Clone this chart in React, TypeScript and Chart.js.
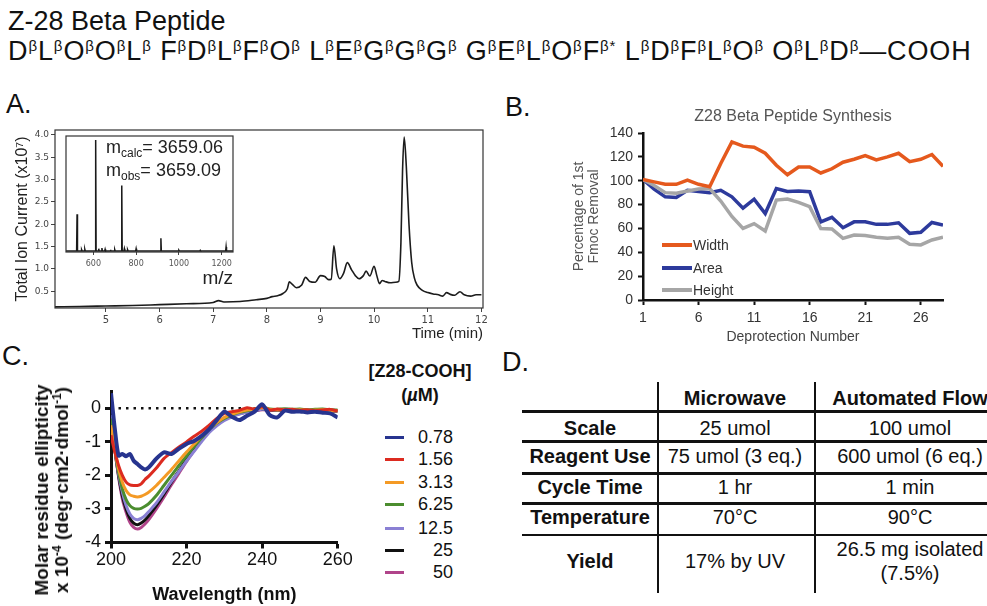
import React, { useEffect, useRef } from "react";
import { Chart, registerables } from "chart.js";

Chart.register(...registerables);

const SANS = '"Liberation Sans", Arial, Helvetica, sans-serif';
const MPL = '"DejaVu Sans", "Liberation Sans", sans-serif';
Chart.defaults.font.family = SANS;

// ---------- header ----------
const figureTitle = "Z-28 Beta Peptide";
const sequenceGroups = [
  ["D", "L", "O", "O", "L"],
  ["F", "D", "L", "F", "O"],
  ["L", "E", "G", "G", "G"],
  ["G", "E", "L", "O", "F*"],
  ["L", "D", "F", "L", "O"],
  ["O", "L", "D"],
];
const sequenceTerminus = "COOH";

// ---------- panel A: total ion chromatogram ----------
const chromTime = [
  4.05, 4.5, 5.0, 5.5, 6.0, 6.5, 7.0, 7.1, 7.2, 7.5, 7.8, 8.0, 8.1, 8.2, 8.3, 8.38, 8.42, 8.47, 8.55,
  8.65, 8.72, 8.8, 8.9, 9.0, 9.08, 9.15, 9.2, 9.25, 9.3, 9.36, 9.43, 9.5, 9.58, 9.65, 9.72, 9.8, 9.85,
  9.92, 10.0, 10.05, 10.1, 10.15, 10.2, 10.3, 10.4, 10.46, 10.5, 10.53, 10.56, 10.6, 10.65, 10.7,
  10.75, 10.8, 10.9, 11.0, 11.1, 11.2, 11.28, 11.35, 11.42, 11.5, 11.6, 11.68, 11.8, 11.9, 12.0,
];
const chromSignal = [
  0.15, 0.16, 0.17, 0.18, 0.2, 0.22, 0.25, 0.29, 0.26, 0.27, 0.31, 0.34, 0.38, 0.4, 0.45, 0.55, 0.71,
  0.66, 0.58, 0.64, 0.81, 0.72, 0.7, 0.85, 0.83, 0.76, 0.77, 1.52, 1.0, 0.78, 0.9, 1.14, 0.98, 0.85,
  0.78, 0.85, 0.95, 0.84, 1.06, 0.85, 0.67, 0.74, 0.72, 0.69, 0.7, 0.72, 1.6, 3.2, 3.95, 3.3, 2.0,
  1.15, 0.8, 0.64, 0.52, 0.47, 0.44, 0.42, 0.39, 0.47, 0.43, 0.41, 0.49, 0.42, 0.39, 0.42, 0.42,
];

// ---------- panel A inset: ESI mass spectrum ----------
const massCalc = "3659.06";
const massObs = "3659.09";
const msTicks = [600, 800, 1000, 1200];
const msPeakMz = [523.7, 545, 560, 610.8, 625, 640, 655, 680, 700, 732.8, 745, 760, 800, 915.8, 1000, 1100, 1220.7];
const msPeakRel = [0.33, 0.01, 0.015, 1.0, 0.02, 0.025, 0.015, 0.01, 0.012, 0.59, 0.02, 0.01, 0.02, 0.114, 0.006, 0.005, 0.036];

// ---------- panel B: Fmoc deprotection ----------
const deprotectionNumber = [
  1, 2, 3, 4, 5, 6, 7, 8, 9, 10, 11, 12, 13, 14, 15, 16, 17, 18, 19, 20, 21, 22, 23, 24, 25, 26, 27, 28,
];
const deprotectionTicks = [1, 6, 11, 16, 21, 26];
const widthPct = [
  101, 99, 97, 97, 100.5, 97, 95, 114.5, 132.5, 129, 128, 123, 113, 105, 111.5, 111.5, 106.5, 110, 115.5,
  118, 121, 117.5, 120, 123, 116, 118, 122, 112,
];
const areaPct = [
  101, 93, 86.5, 86, 92, 91, 90, 92, 86.5, 77, 84.5, 72.5, 93.5, 91, 91.3, 90.8, 65.5, 69.3, 60.6, 65.5,
  65.5, 63.4, 63.4, 64.7, 55.9, 56.7, 65, 62.8,
];
const heightPct = [
  101, 96, 90, 89.5, 91.3, 93, 93.5, 83, 70, 60, 64, 57.8, 83.8, 84.6, 81.8, 78.2, 60, 59.6, 51.7, 54.5,
  54, 52.6, 51.7, 52.6, 46.7, 46.2, 50.3, 52.6,
];
const bSeriesLabels = ["Width", "Area", "Height"];
const bSeriesColors = ["#e5591d", "#2d3a9c", "#a6a6a6"];

// ---------- panel C: CD spectra ----------
const wavelengths = [
  200, 201, 202, 203, 204, 205, 206, 207, 208, 209, 210, 212, 214, 216, 218, 220, 222, 224, 226, 228,
  230, 232, 234, 236, 238, 240, 242, 244, 246, 248, 250, 252, 254, 256, 258, 260,
];
const cd078 = [
  0.45, -0.6, -1.41, -1.36, -1.43, -1.36, -1.56, -1.66, -1.76, -1.82, -1.76, -1.5, -1.31, -1.36, -1.2,
  -1.06, -0.97, -0.82, -0.62, -0.35, -0.1, -0.25, -0.35, -0.22, -0.1, 0.12, -0.2, -0.27, -0.07, -0.1,
  -0.09, -0.12, -0.1, -0.13, -0.15, -0.27,
];
const cd156 = [
  -0.8, -1.3, -1.7, -2.0, -2.2, -2.28, -2.3, -2.3, -2.25, -2.12, -2.02, -1.78, -1.5, -1.32, -1.15, -1.0,
  -0.83, -0.68, -0.5, -0.3, -0.15, -0.1, -0.06, 0.02, -0.02, 0.05, -0.05, -0.02, -0.04, -0.03, -0.06,
  -0.04, -0.07, -0.05, -0.03, -0.08,
];
const cd313 = [
  -0.5, -1.2, -1.8, -2.2, -2.45, -2.58, -2.62, -2.64, -2.62, -2.57, -2.5, -2.3, -2.06, -1.82, -1.56, -1.3,
  -1.06, -0.82, -0.6, -0.42, -0.27, -0.17, -0.1, -0.05, -0.02, 0.02, -0.03, -0.05, -0.03, -0.05, -0.04,
  -0.06, -0.05, -0.04, -0.06, -0.07,
];
const cd625 = [
  -0.3, -1.2, -1.9, -2.4, -2.72, -2.9, -2.98, -3.0, -2.98, -2.92, -2.84, -2.6, -2.3, -2.0, -1.7, -1.42,
  -1.14, -0.88, -0.63, -0.44, -0.3, -0.2, -0.12, -0.07, -0.03, 0.03, -0.02, -0.03, -0.01, -0.03, -0.02,
  -0.04, -0.03, -0.02, -0.04, -0.05,
];
const cd125 = [
  -0.2, -1.2, -1.95, -2.5, -2.9, -3.15, -3.28, -3.32, -3.28, -3.2, -3.08, -2.82, -2.5, -2.18, -1.88,
  -1.57, -1.28, -0.99, -0.72, -0.52, -0.36, -0.25, -0.17, -0.11, -0.07, -0.03, -0.04, -0.05, -0.04,
  -0.05, -0.04, -0.06, -0.05, -0.05, -0.06, -0.07,
];
const cd25 = [
  -0.1, -1.2, -2.0, -2.6, -3.0, -3.28, -3.42, -3.47, -3.42, -3.33, -3.2, -2.9, -2.56, -2.2, -1.86, -1.52,
  -1.2, -0.9, -0.63, -0.44, -0.31, -0.22, -0.15, -0.1, -0.06, -0.03, -0.05, -0.06, -0.05, -0.06, -0.05,
  -0.06, -0.07, -0.06, -0.07, -0.08,
];
const cd50 = [
  -0.05, -1.2, -2.05, -2.7, -3.1, -3.4, -3.55, -3.6, -3.55, -3.45, -3.32, -3.0, -2.65, -2.28, -1.93,
  -1.58, -1.25, -0.94, -0.66, -0.46, -0.32, -0.23, -0.16, -0.1, -0.07, -0.04, -0.05, -0.06, -0.05,
  -0.06, -0.05, -0.06, -0.07, -0.06, -0.07, -0.08,
];
const cdConcentrations = ["0.78", "1.56", "3.13", "6.25", "12.5", "25", "50"];
const cdColors = ["#27348f", "#dc2b20", "#f49a25", "#4b8d2f", "#8a80d4", "#111111", "#b0448a"];
const cdSeries = [cd078, cd156, cd313, cd625, cd125, cd25, cd50];

// ---------- panel D: synthesis comparison ----------
const methodHeaders = ["Microwave", "Automated Flow"];
const rowLabels = ["Scale", "Reagent Use", "Cycle Time", "Temperature", "Yield"];
const microwaveValues = ["25 umol", "75 umol (3 eq.)", "1 hr", "70°C", "17% by UV"];
const flowValues = ["100 umol", "600 umol (6 eq.)", "1 min", "90°C", "26.5 mg isolated\n(7.5%)"];

// ---------- helpers ----------
type Rect = { left: number; top: number; width: number; height: number };

function ChartBox({ rect, build }: { rect: Rect; build: () => any }) {
  const ref = useRef<HTMLCanvasElement | null>(null);
  useEffect(() => {
    if (!ref.current) return;
    const chart = new Chart(ref.current, build());
    return () => chart.destroy();
  }, []);
  return (
    <canvas
      ref={ref}
      width={rect.width}
      height={rect.height}
      style={{ position: "absolute", left: rect.left, top: rect.top, width: rect.width, height: rect.height }}
    />
  );
}

function framePlugin(stroke: string, lineWidth: number, fill?: string) {
  return {
    id: "frame",
    beforeDraw(chart: any) {
      if (!fill) return;
      const { ctx, chartArea: a } = chart;
      ctx.save();
      ctx.fillStyle = fill;
      ctx.fillRect(a.left, a.top, a.right - a.left, a.bottom - a.top);
      ctx.restore();
    },
    afterDatasetsDraw(chart: any) {
      const { ctx, chartArea: a } = chart;
      ctx.save();
      ctx.strokeStyle = stroke;
      ctx.lineWidth = lineWidth;
      ctx.strokeRect(a.left, a.top, a.right - a.left, a.bottom - a.top);
      ctx.restore();
    },
  };
}

const quiet = { legend: { display: false }, tooltip: { enabled: false } };

const chromConfig = () => ({
  type: "line",
  data: {
    datasets: [
      {
        data: chromTime.map((t, i) => ({ x: t, y: chromSignal[i] })),
        borderColor: "#1c1c1c",
        borderWidth: 1.6,
        pointRadius: 0,
        cubicInterpolationMode: "monotone",
      },
    ],
  },
  options: {
    responsive: false,
    animation: false,
    events: [],
    layout: { padding: { top: 20, right: 12, left: 0, bottom: 0 } },
    plugins: quiet,
    scales: {
      x: {
        type: "linear",
        min: 4.05,
        max: 12.03,
        afterFit: (s: any) => {
          s.height = 42;
        },
        ticks: { stepSize: 1, includeBounds: false, color: "#444", font: { size: 10, family: MPL }, padding: 2, maxRotation: 0 },
        grid: { drawOnChartArea: false, tickLength: 4, color: "#444" },
        border: { display: false },
        title: { display: true, text: "Time (min)", align: "end", color: "#222", font: { size: 15 }, padding: { top: 0, bottom: 7 } },
      },
      y: {
        type: "linear",
        min: 0.125,
        max: 4.11,
        afterFit: (s: any) => {
          s.width = 55;
        },
        ticks: {
          stepSize: 0.5,
          includeBounds: false,
          color: "#444",
          font: { size: 9, family: MPL },
          padding: 2,
          callback: (v: any) => Number(v).toFixed(1),
        },
        grid: { drawOnChartArea: false, tickLength: 4, color: "#444" },
        border: { display: false },
        title: { display: true, text: "Total Ion Current (x10⁷)", color: "#222", font: { size: 16 }, padding: { top: 13, bottom: 0 } },
      },
    },
  },
  plugins: [framePlugin("#333", 1.2)],
});

const spectrumConfig = () => {
  const pts: { x: number; y: number }[] = [{ x: 472, y: 0 }];
  msPeakMz.forEach((mz, i) => {
    pts.push({ x: mz - 2, y: 0 }, { x: mz, y: msPeakRel[i] }, { x: mz + 2, y: 0 });
  });
  pts.push({ x: 1253, y: 0 });
  return {
    type: "line",
    data: { datasets: [{ data: pts, borderColor: "#1a1a1a", borderWidth: 1.5, pointRadius: 0, tension: 0 }] },
    options: {
      responsive: false,
      animation: false,
      events: [],
      layout: { padding: { top: 6, right: 8, left: 10, bottom: 0 } },
      plugins: quiet,
      scales: {
        x: {
          type: "linear",
          min: 472,
          max: 1253,
          afterBuildTicks: (s: any) => {
            s.ticks = msTicks.map((v) => ({ value: v }));
          },
          afterFit: (s: any) => {
            s.height = 38;
          },
          ticks: { color: "#555", font: { size: 8, family: MPL }, padding: 4, maxRotation: 0, autoSkip: false, callback: (v: any) => String(v) },
          grid: { drawOnChartArea: false, tickLength: 3, color: "#444" },
          border: { display: false },
          title: { display: true, text: "m/z", align: "end", color: "#222", font: { size: 19 }, padding: { top: 0, bottom: 0 } },
        },
        y: { display: false, min: -0.01, max: 1.036 },
      },
    },
    plugins: [framePlugin("#333", 1.2, "#ffffff")],
  };
};

const deprotectionConfig = () => {
  const series = [widthPct, areaPct, heightPct];
  // width on top, then height, then area underneath
  const drawOrder = [0, 2, 1];
  return {
    type: "line",
    data: {
      datasets: drawOrder.map((k) => ({
        label: bSeriesLabels[k],
        data: deprotectionNumber.map((n, i) => ({ x: n, y: series[k][i] })),
        borderColor: bSeriesColors[k],
        borderWidth: 3.5,
        pointRadius: 0,
        tension: 0,
      })),
    },
    options: {
      responsive: false,
      animation: false,
      events: [],
      layout: { padding: { top: 0, right: 17, left: 0, bottom: 0 } },
      plugins: {
        ...quiet,
        title: {
          display: true,
          text: "Z28 Beta Peptide Synthesis",
          fullSize: false,
          color: "#555",
          font: { size: 16, weight: "normal" },
          padding: { top: 7.4, bottom: 6.4 },
        },
      },
      scales: {
        x: {
          type: "linear",
          min: 1,
          max: 28,
          afterBuildTicks: (s: any) => {
            s.ticks = deprotectionTicks.map((v) => ({ value: v }));
          },
          afterFit: (s: any) => {
            s.height = 50;
          },
          ticks: { color: "#333", font: { size: 14 }, padding: 5, maxRotation: 0, autoSkip: false },
          grid: { drawOnChartArea: false, tickLength: 5, tickWidth: 2, tickColor: "#111" },
          border: { color: "#111", width: 2.5 },
          title: { display: true, text: "Deprotection Number", color: "#444", font: { size: 14 }, padding: { top: 0, bottom: 4 } },
        },
        y: {
          min: 0,
          max: 140,
          afterFit: (s: any) => {
            s.width = 83;
          },
          ticks: { stepSize: 20, color: "#333", font: { size: 14 }, padding: 5 },
          grid: { drawOnChartArea: false, tickLength: 5, tickWidth: 2, tickColor: "#111" },
          border: { color: "#111", width: 2.5 },
          title: {
            display: true,
            text: ["Percentage of 1st", "Fmoc Removal"],
            color: "#555",
            font: { size: 14, lineHeight: 1.1 },
            padding: { top: 11, bottom: 0 },
          },
        },
      },
    },
  };
};

const cdConfig = () => ({
  type: "line",
  data: {
    datasets: [
      ...cdSeries.map((vals, k) => ({
        label: cdConcentrations[k],
        data: wavelengths.map((w, i) => ({ x: w, y: vals[i] })),
        borderColor: cdColors[k],
        borderWidth: k === 0 ? 4 : 3,
        pointRadius: 0,
        tension: 0.25,
      })),
      {
        label: "zero",
        data: [
          { x: 200, y: 0 },
          { x: 240, y: 0 },
        ],
        borderColor: "#111",
        borderWidth: 2.5,
        borderDash: [2.5, 5],
        pointRadius: 0,
      },
    ],
  },
  options: {
    responsive: false,
    animation: false,
    events: [],
    layout: { padding: { top: 21.6, right: 22.3, left: 0, bottom: 0 } },
    plugins: quiet,
    scales: {
      x: {
        type: "linear",
        min: 200,
        max: 260,
        afterFit: (s: any) => {
          s.height = 63.5;
        },
        ticks: { stepSize: 20, color: "#111", font: { size: 18 }, padding: 1, maxRotation: 0 },
        grid: { drawOnChartArea: false, tickLength: 6, tickWidth: 3, tickColor: "#111" },
        border: { color: "#111", width: 3 },
        title: {
          display: true,
          text: "Wavelength (nm)",
          color: "#111",
          font: { size: 18, weight: "bold" },
          padding: { top: 0, bottom: 0 },
        },
      },
      y: {
        min: -4,
        max: 0.5,
        afterFit: (s: any) => {
          s.width = 111;
        },
        ticks: { stepSize: 1, includeBounds: false, color: "#111", font: { size: 18 }, padding: 4 },
        grid: { drawOnChartArea: false, tickLength: 6, tickWidth: 3, tickColor: "#111" },
        border: { color: "#111", width: 3 },
      },
    },
  },
});

const abs = (s: React.CSSProperties): React.CSSProperties => ({ position: "absolute", ...s });
const panelLabel = (text: string, left: number, top: number) => (
  <div style={abs({ left, top, fontSize: 27, lineHeight: 1, color: "#111" })}>{text}</div>
);

function Sequence() {
  const sup: React.CSSProperties = { fontSize: 15, position: "relative", top: -9, verticalAlign: "baseline" };
  return (
    <div
      style={abs({ left: 8, top: 38, fontSize: 27, lineHeight: 1, whiteSpace: "nowrap", color: "#111", letterSpacing: "0.9px" })}
    >
      {sequenceGroups.map((g, gi) => (
        <span key={gi}>
          {gi > 0 ? " " : ""}
          {g.map((r, ri) => (
            <span key={ri}>
              {r[0]}
              <span style={sup}>{"β" + (r.endsWith("*") ? "*" : "")}</span>
            </span>
          ))}
        </span>
      ))}
      <span>{"\u2014" + sequenceTerminus}</span>
    </div>
  );
}

function ComparisonTable() {
  const colX = [590, 735, 910];
  const rowY = [428, 456, 487, 517, 561];
  const rules = [411.7, 441.7, 473.3, 503.3, 535];
  const cell = (x: number, y: number, bold: boolean): React.CSSProperties =>
    abs({
      left: x,
      top: y,
      transform: "translate(-50%, -50%)",
      fontSize: 20,
      lineHeight: "24px",
      fontWeight: bold ? 700 : 400,
      whiteSpace: "pre",
      textAlign: "center",
      color: "#111",
    });
  return (
    <>
      {rules.map((y) => (
        <div key={y} style={abs({ left: 522, top: y - 1.25, width: 470, height: 2.5, background: "#111" })} />
      ))}
      {[657.7, 815].map((x) => (
        <div key={x} style={abs({ left: x - 1, top: 382, width: 2, height: 211, background: "#111" })} />
      ))}
      {methodHeaders.map((h, i) => (
        <div key={h} style={cell(colX[i + 1], 398, true)}>
          {h}
        </div>
      ))}
      {rowLabels.map((lab, r) => (
        <React.Fragment key={lab}>
          <div style={cell(colX[0], rowY[r], true)}>{lab}</div>
          <div style={cell(colX[1], rowY[r], false)}>{microwaveValues[r]}</div>
          <div style={cell(colX[2], rowY[r], false)}>{flowValues[r]}</div>
        </React.Fragment>
      ))}
    </>
  );
}

export default function App() {
  const bLegendY = [245, 268, 290];
  const cLegendY = [437, 459, 482, 504, 528, 550, 572];
  const sub: React.CSSProperties = { fontSize: 12, position: "relative", top: 4, verticalAlign: "baseline" };
  const supSmall: React.CSSProperties = { fontSize: 12, position: "relative", top: -7, verticalAlign: "baseline" };
  return (
    <div
      style={{
        position: "fixed",
        left: 0,
        top: 0,
        width: 987,
        height: 606,
        background: "#fff",
        overflow: "hidden",
        fontFamily: SANS,
        color: "#111",
      }}
    >
      <div style={abs({ left: 8, top: 8, fontSize: 27, lineHeight: 1 })}>{figureTitle}</div>
      <Sequence />

      {panelLabel("A.", 6, 91)}
      {panelLabel("B.", 505, 94)}
      {panelLabel("C.", 2, 343)}
      {panelLabel("D.", 502, 349)}

      {/* A: chromatogram with mass-spectrum inset */}
      <ChartBox rect={{ left: 0, top: 110, width: 495, height: 240 }} build={chromConfig} />
      <ChartBox rect={{ left: 56, top: 130, width: 185, height: 160 }} build={spectrumConfig} />
      <div style={abs({ left: 106, top: 137, fontSize: 18, lineHeight: "21px", color: "#222", whiteSpace: "nowrap" })}>
        m<span style={sub}>calc</span>= {massCalc}
        <br />
        m<span style={sub}>obs</span>= {massObs}
      </div>

      {/* B: Fmoc removal */}
      <ChartBox rect={{ left: 560, top: 100, width: 400, height: 250 }} build={deprotectionConfig} />
      {bSeriesLabels.map((lab, i) => (
        <div key={lab} style={abs({ left: 662, top: bLegendY[i] - 9, height: 18, display: "flex", alignItems: "center" })}>
          <span style={{ display: "inline-block", width: 30, height: 4, background: bSeriesColors[i] }} />
          <span style={{ fontSize: 14, color: "#333", marginLeft: 1 }}>{lab}</span>
        </div>
      ))}

      {/* C: circular dichroism */}
      <ChartBox rect={{ left: 0, top: 370, width: 360, height: 236 }} build={cdConfig} />
      <div
        style={abs({
          left: 53,
          top: 490,
          transform: "translate(-50%, -50%) rotate(-90deg)",
          whiteSpace: "nowrap",
          textAlign: "center",
          fontWeight: 700,
          fontSize: 19,
          lineHeight: "20px",
        })}
      >
        Molar residue ellipticity
        <br />x 10<span style={supSmall}>-4</span> (deg·cm2·dmol<span style={supSmall}>-1</span>)
      </div>
      <div style={abs({ left: 420, top: 383, transform: "translate(-50%, -50%)", fontSize: 18, fontWeight: 700, lineHeight: "24px", textAlign: "center", whiteSpace: "nowrap" })}>
        [Z28-COOH]
        <br />(<i>µ</i>M)
      </div>
      {cdConcentrations.map((c, i) => (
        <React.Fragment key={c}>
          <div style={abs({ left: 385, top: cLegendY[i] - 1.5, width: 19, height: 3, background: cdColors[i] })} />
          <div style={abs({ left: 400, width: 53, top: cLegendY[i] - 10, fontSize: 18, lineHeight: "20px", textAlign: "right" })}>{c}</div>
        </React.Fragment>
      ))}

      {/* D: comparison table */}
      <ComparisonTable />
    </div>
  );
}
